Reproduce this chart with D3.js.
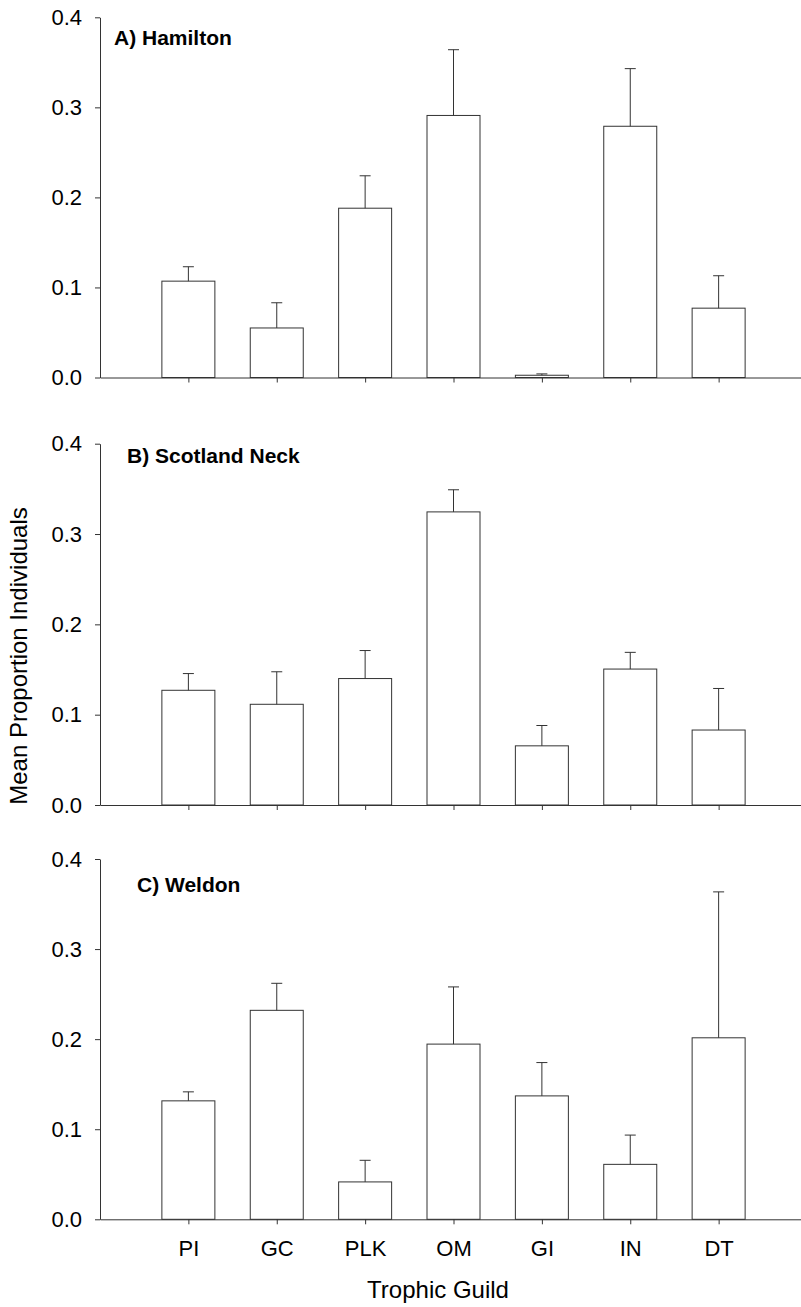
<!DOCTYPE html>
<html>
<head>
<meta charset="utf-8">
<script src="https://cdn.jsdelivr.net/npm/d3@7"></script>
<style>
  body { margin: 0; background: #fff; }
  svg text { font-family: "Liberation Sans", Arial, sans-serif; fill: #000; }
</style>
</head>
<body>
<div id="chart"></div>
<script>
// trophic guilds on the x axis
const guilds = ["PI", "GC", "PLK", "OM", "GI", "IN", "DT"];
const yTicks = [0, 0.1, 0.2, 0.3, 0.4];

// mean proportion and upper error (mean + SE) for each site
const hamiltonMean = [0.107, 0.055, 0.188, 0.291, 0.0025, 0.279, 0.077];
const hamiltonUpper = [0.123, 0.083, 0.224, 0.364, 0.004, 0.343, 0.113];

const scotlandMean = [0.127, 0.1115, 0.140, 0.3245, 0.0655, 0.1505, 0.083];
const scotlandUpper = [0.1455, 0.1475, 0.171, 0.349, 0.088, 0.169, 0.129];

const weldonMean = [0.1315, 0.232, 0.0415, 0.1945, 0.137, 0.061, 0.2015];
const weldonUpper = [0.1415, 0.262, 0.0655, 0.258, 0.174, 0.0935, 0.3635];

const panels = [
    { title: "A) Hamilton", mean: hamiltonMean, upper: hamiltonUpper, top: 17.3, bottom: 377.5, tx: 114, ty: 45, labels: false },
    { title: "B) Scotland Neck", mean: scotlandMean, upper: scotlandUpper, top: 443.7, bottom: 805, tx: 127, ty: 463, labels: false },
    { title: "C) Weldon", mean: weldonMean, upper: weldonUpper, top: 859, bottom: 1219.3, tx: 137, ty: 892, labels: true }
];

const width = 801;
const height = 1307;
const lineColor = "#333";

const svg = d3.select("#chart").append("svg").attr("width", width).attr("height", height);

const x = d3.scalePoint().domain(guilds).range([100, 807]).padding(1);
const barWidth = 53;
const capWidth = 11;

panels.forEach(p => {
    const y = d3.scaleLinear().domain([0, 0.4]).range([p.bottom, p.top]);
    const g = svg.append("g");

    // bars
    g.selectAll("rect.bar").data(p.mean).enter().append("rect")
        .attr("class", "bar")
        .attr("x", (d, i) => x(guilds[i]) - barWidth / 2)
        .attr("y", d => y(d))
        .attr("width", barWidth)
        .attr("height", d => y(0) - y(d))
        .attr("fill", "#fff")
        .attr("stroke", lineColor)
        .attr("stroke-width", 1);

    // upper error bars
    g.selectAll("line.err").data(p.upper).enter().append("line")
        .attr("x1", (d, i) => x(guilds[i]))
        .attr("x2", (d, i) => x(guilds[i]))
        .attr("y1", (d, i) => y(p.mean[i]))
        .attr("y2", d => y(d))
        .attr("stroke", lineColor);
    g.selectAll("line.cap").data(p.upper).enter().append("line")
        .attr("x1", (d, i) => x(guilds[i]) - capWidth / 2)
        .attr("x2", (d, i) => x(guilds[i]) + capWidth / 2)
        .attr("y1", d => y(d))
        .attr("y2", d => y(d))
        .attr("stroke", lineColor);

    // y axis
    const ya = g.append("g").attr("transform", "translate(100,0)")
        .call(d3.axisLeft(y).tickValues(yTicks).tickFormat(d3.format(".1f"))
            .tickSize(5).tickSizeOuter(0).tickPadding(13));
    ya.selectAll("text").style("font-size", "22px");

    // x axis
    const xa = g.append("g").attr("transform", `translate(0,${p.bottom})`)
        .call(d3.axisBottom(x).tickSize(5).tickSizeOuter(0).tickPadding(16)
            .tickFormat(p.labels ? (d => d) : () => ""));
    xa.selectAll("text").style("font-size", "22px");

    svg.selectAll(".domain, .tick line").attr("stroke", lineColor);

    g.append("text")
        .attr("x", p.tx).attr("y", p.ty)
        .style("font-size", "21px").style("font-weight", "bold")
        .text(p.title);
});

svg.append("text")
    .attr("transform", "translate(27,656) rotate(-90)")
    .attr("text-anchor", "middle")
    .style("font-size", "24px")
    .text("Mean Proportion Individuals");

svg.append("text")
    .attr("x", 438).attr("y", 1298)
    .attr("text-anchor", "middle")
    .style("font-size", "24px")
    .text("Trophic Guild");
</script>
</body>
</html>
